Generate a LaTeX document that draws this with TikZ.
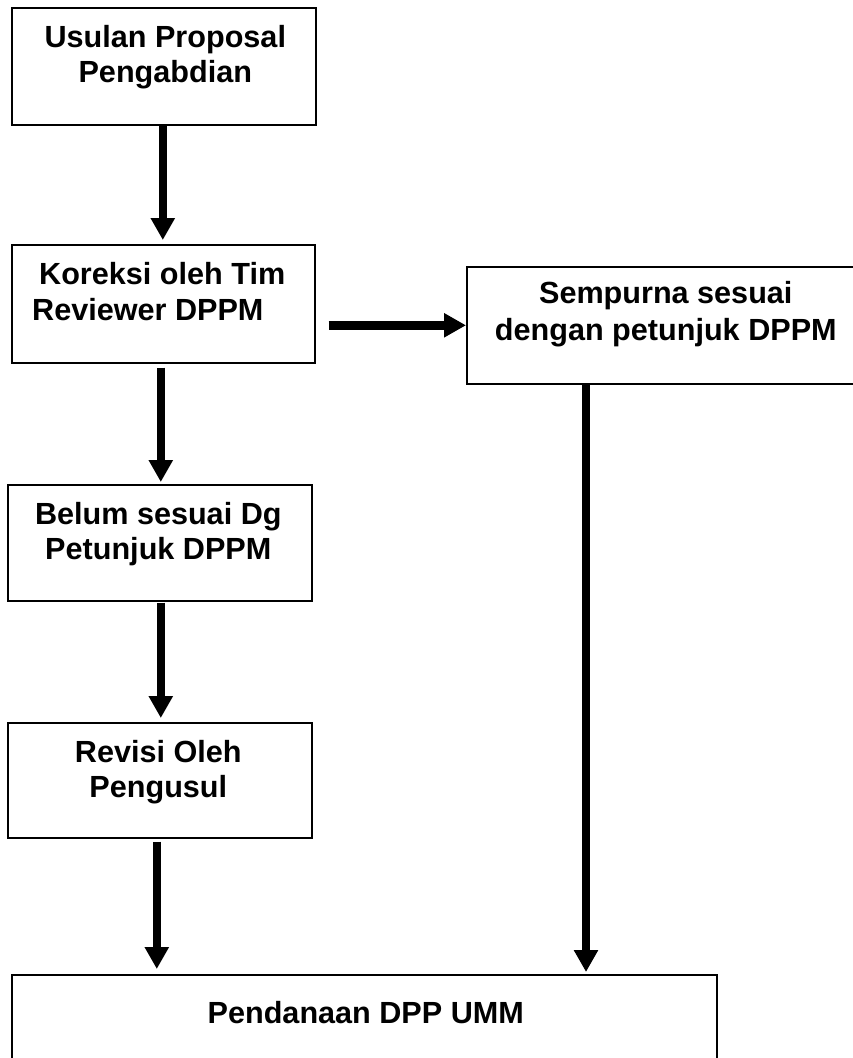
\documentclass[tikz,border=0pt]{standalone}
\usepackage{fontspec}
\setmainfont{Liberation Sans}
\usetikzlibrary{arrows.meta,calc}
\begin{document}
\begin{tikzpicture}[x=1pt,y=-1pt,
  box/.style={draw=black,line width=1.6pt,inner sep=0pt,anchor=north west},
  lbl/.style={font=\fontsize{30.6pt}{35pt}\selectfont\bfseries,inner sep=0pt,anchor=base},
  lblw/.style={lbl,anchor=base west},
  arr/.style={line width=8pt,-{Triangle[width=23pt,length=22pt]}},
  harr/.style={line width=9pt,-{Triangle[width=23pt,length=22pt]}}]
\useasboundingbox (0,0) rectangle (853,1058);
\clip (0,0) rectangle (853,1058);
% boxes
\node[box,minimum width=304pt,minimum height=117pt] (b1) at (11,7) {};
\node[box,minimum width=303pt,minimum height=118pt] (b2) at (11,244) {};
\node[box,minimum width=304pt,minimum height=116pt] (b3) at (7,484) {};
\node[box,minimum width=304pt,minimum height=115pt] (b4) at (7,722) {};
\node[box,minimum width=398pt,minimum height=117pt] (b5) at (466,266) {};
\node[box,minimum width=705pt,minimum height=90pt] (b6) at (11,974) {};
% texts
\node[lbl] (t1a) at ($(b1.north)+(1.5,40)$) {Usulan Proposal};
\node[lbl] (t1b) at ($(b1.north)+(1.5,75)$) {Pengabdian};
\node[lblw] (t2a) at ($(b2.north west)+(28,40)$) {Koreksi oleh Tim};
\node[lblw] (t2b) at ($(b2.north west)+(21,76)$) {Reviewer DPPM};
\node[lbl] (t3a) at ($(b3.north)+(-1.5,40)$) {Belum sesuai Dg};
\node[lbl] (t3b) at ($(b3.north)+(-1.5,75)$) {Petunjuk DPPM};
\node[lbl] (t4a) at ($(b4.north)+(-1.5,40)$) {Revisi Oleh};
\node[lbl] (t4b) at ($(b4.north)+(-1.5,75)$) {Pengusul};
\node[lbl] (t5a) at ($(b5.north)+(0,37)$) {Sempurna sesuai};
\node[lbl] (t5b) at ($(b5.north)+(0,74)$) {dengan petunjuk DPPM};
\node[lbl] (t6) at ($(b6.north)+(1.5,49)$) {Pendanaan DPP UMM};
% arrows
\draw[arr] ($(b1.south)+(-1,0)$) -- ($(b1.south |- b2.north)+(-1,-4)$);
\draw[arr] ($(b2.south)+(-2.5,4)$) -- ($(b2.south |- b3.north)+(-2.5,-2)$);
\draw[arr] ($(b3.south)+(1,1)$) -- ($(b3.south |- b4.north)+(1,-4)$);
\draw[arr] ($(b4.south)+(-3,3)$) -- ($(b4.south |- b6.north)+(-3,-5)$);
\draw[harr] ($(b2.east |- b5.west)+(13,0)$) -- (b5.west);
\draw[arr] ($(b5.south west)+(120,0)$) -- ($(b5.south west |- b6.north)+(120,-2)$);
\end{tikzpicture}
\end{document}
